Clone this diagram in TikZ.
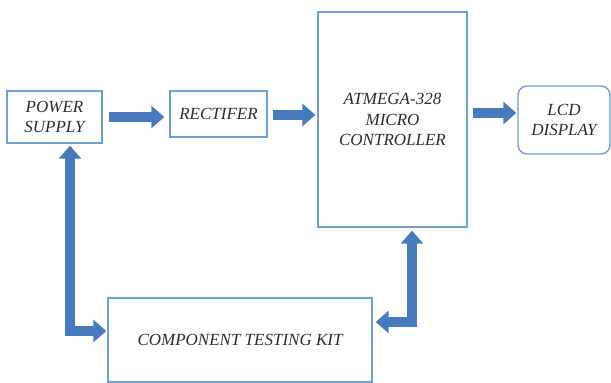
\documentclass[tikz,border=0pt]{standalone}
\usepackage{fontspec}
\setmainfont{Liberation Serif}
\usetikzlibrary{arrows.meta}

\definecolor{boxblue}{RGB}{110,160,215}
\definecolor{arrowblue}{RGB}{72,122,190}
\definecolor{textgray}{RGB}{45,45,45}

\tikzset{
  blockbox/.style={draw=boxblue, line width=1.4pt, fill=white, align=center,
    text=textgray, font=\itshape\fontsize{17}{20.5}\selectfont, inner sep=1pt},
  blockarrow/.style={draw=arrowblue, line width=10.5pt,
    -{Triangle[width=22pt,length=13pt]}},
  bothways/.style={draw=arrowblue, line width=10.5pt,
    {Triangle[width=22pt,length=13pt]}-{Triangle[width=22pt,length=13pt]}}
}

\begin{document}
\begin{tikzpicture}[x=1pt, y=-1pt]
    \useasboundingbox (0,0) rectangle (611,383);

    %boxes
    \node[blockbox, minimum width=95pt, minimum height=52pt] (power) at (54.5,117) {POWER\\SUPPLY};
    \node[blockbox, minimum width=97pt, minimum height=46pt] (rectifier) at (218.5,114) {RECTIFER};
    \node[blockbox, minimum width=149pt, minimum height=215pt] (mcu) at (392.5,119.5) {ATMEGA-328\\MICRO\\CONTROLLER};
    \node[blockbox, rounded corners=9pt, minimum width=92pt, minimum height=68pt] (lcd) at (564,120) {LCD\\DISPLAY};
    \node[blockbox, minimum width=264pt, minimum height=84pt] (kit) at (240,340) {COMPONENT TESTING KIT};

    %bends
    \coordinate (pbend) at (70,331);
    \coordinate (mbend) at (412,322);

    %arrows
    \draw[blockarrow, shorten <=6pt, shorten >=5pt] (power.east |- 0,117) -- (rectifier.west |- 0,117);
    \draw[blockarrow, shorten <=5pt, shorten >=2pt] (rectifier.east |- 0,115) -- (mcu.west |- 0,115);
    \draw[blockarrow, shorten <=5pt, shorten >=1pt] (mcu.east |- 0,113) -- (lcd.west |- 0,113);
    \draw[bothways, shorten <=2pt, shorten >=1pt] (power.south -| pbend) -- (pbend) -- (kit.west |- pbend);
    \draw[bothways, shorten <=3pt, shorten >=3pt] (mcu.south -| mbend) -- (mbend) -- (kit.east |- mbend);

\end{tikzpicture}
\end{document}
